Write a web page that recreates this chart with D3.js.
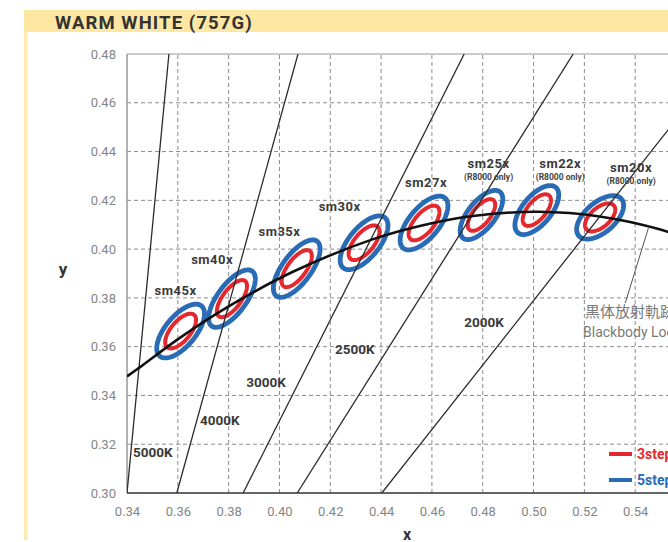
<!DOCTYPE html>
<html><head><meta charset="utf-8">
<script src="https://cdn.jsdelivr.net/npm/d3@7"></script>
<style>
html,body{margin:0;padding:0;background:#fff;overflow:hidden;}
svg{display:block;font-family:Roboto,"Noto Sans",sans-serif;}
</style></head>
<body>
<svg id="chart" width="668" height="542"></svg>
<script>
// ---------- data ----------
const xTicks = [0.34,0.36,0.38,0.40,0.42,0.44,0.46,0.48,0.50,0.52,0.54,0.56];
const yTicks = [0.30,0.32,0.34,0.36,0.38,0.40,0.42,0.44,0.46,0.48];

// blackbody (Planckian) locus
const locusX = [0.3400,0.3451,0.3608,0.3805,0.4053,0.4369,0.4599,0.4770,0.5018,0.5266,0.5496,0.5729];
const locusY = [0.3478,0.3516,0.3636,0.3768,0.3907,0.4041,0.4106,0.4137,0.4153,0.4133,0.4081,0.3991];

// isotherm lines: x at y=0.30 and x at y=0.48
const isoNames   = ["5000K","4000K","3000K","2500K","2000K"];
const isoBottomX = [0.3400,0.3596,0.3857,0.4070,0.4403];
const isoTopX    = [0.3565,0.4073,0.4727,0.5156,0.5765];
const isoLabelX  = [0.3424,0.3687,0.3869,0.4219,0.4727];
const isoLabelY  = [0.3168,0.3299,0.3455,0.3590,0.3701];

// 3-step ellipses (5-step scaled)
const ellNames = ["sm45x","sm40x","sm35x","sm30x","sm27x","sm25x","sm22x","sm20x"];
const ellCx    = [0.3611,0.3813,0.4068,0.4333,0.4569,0.4795,0.5013,0.5262];
const ellCy    = [0.3664,0.3797,0.3920,0.4026,0.4107,0.4140,0.4160,0.4130];
const ellA     = [0.0085,0.0089,0.0089,0.0085,0.0085,0.0077,0.0077,0.0073];
const ellB     = [0.0039,0.0037,0.0037,0.0039,0.0039,0.0035,0.0037,0.0039];
const ellAngle = [52,55,55,52,52,53,52,43];
const ellNote  = ["","","","","","(R8000 only)","(R8000 only)","(R8000 only)"];
const ellLabelX = [0.3591,0.3735,0.4000,0.4237,0.4577,0.4823,0.5105,0.5384];
const ellLabelY = [0.3830,0.3959,0.4071,0.4173,0.4272,0.4349,0.4349,0.4333];
const stepNames = ["3step","5step"];
const stepScale = [1,1.55];

// ---------- drawing ----------
const svg = d3.select("#chart");
const red = "#e5282e", blue = "#2a6bb5";

svg.append("rect").attr("x",24).attr("y",10).attr("width",660).attr("height",22).attr("fill","#fee7a3");
svg.append("rect").attr("x",24).attr("y",32).attr("width",3.5).attr("height",508).attr("fill","#feebb2");
svg.append("text").attr("x",55).attr("y",28.5).attr("font-size",18.5).attr("font-weight",700)
  .attr("letter-spacing",1.1).attr("fill","#333").text("WARM WHITE (757G)");

const x = d3.scaleLinear().domain([0.34,0.56]).range([127,686]);
const y = d3.scaleLinear().domain([0.30,0.48]).range([493,54]);

svg.append("defs").append("clipPath").attr("id","clip").append("rect")
  .attr("x",127).attr("y",54).attr("width",559).attr("height",439);

// grid
const grid = svg.append("g");
grid.selectAll("line.v").data(xTicks.slice(1)).join("line")
  .attr("x1",d=>x(d)).attr("x2",d=>x(d)).attr("y1",y(0.30)).attr("y2",y(0.48))
  .attr("stroke","#8c8c8c").attr("stroke-width",1).attr("stroke-dasharray","4,3");
grid.selectAll("line.h").data(yTicks.slice(1,-1)).join("line")
  .attr("y1",d=>y(d)).attr("y2",d=>y(d)).attr("x1",x(0.34)).attr("x2",x(0.56))
  .attr("stroke","#8c8c8c").attr("stroke-width",1).attr("stroke-dasharray","4,3");

// frame
svg.append("line").attr("x1",x(0.34)).attr("x2",x(0.56)).attr("y1",y(0.48)).attr("y2",y(0.48))
  .attr("stroke","#999").attr("stroke-width",1.2);
svg.append("line").attr("x1",x(0.34)).attr("x2",x(0.34)).attr("y1",y(0.48)).attr("y2",y(0.30))
  .attr("stroke","#999").attr("stroke-width",1.5);

// axes
const ax = svg.append("g").attr("transform",`translate(0,${y(0.30)})`)
  .call(d3.axisBottom(x).tickValues(xTicks.slice(0,-1)).tickFormat(d3.format(".2f")).tickSize(0).tickPadding(14));
const ay = svg.append("g").attr("transform",`translate(${x(0.34)},0)`)
  .call(d3.axisLeft(y).tickValues(yTicks).tickFormat(d3.format(".2f")).tickSize(0).tickPadding(11));
[ax,ay].forEach(g=>{
  g.select(".domain").remove();
  g.selectAll("text").attr("font-size",13).attr("fill","#858585").attr("font-family","Roboto");
});
svg.append("line").attr("x1",x(0.34)).attr("x2",x(0.56)).attr("y1",y(0.30)).attr("y2",y(0.30))
  .attr("stroke","#333").attr("stroke-width",1.6);

svg.append("text").attr("x",407).attr("y",539.5).attr("text-anchor","middle")
  .attr("font-size",16).attr("font-weight",700).attr("fill","#333").text("x");
svg.append("text").attr("x",63).attr("y",275).attr("text-anchor","middle")
  .attr("font-size",17).attr("font-weight",700).attr("fill","#333").text("y");

const plot = svg.append("g").attr("clip-path","url(#clip)");

// ellipses
function ellipsePts(i,k){
  const th = ellAngle[i]*Math.PI/180, a = ellA[i]*k, b = ellB[i]*k;
  return d3.range(0,120).map(j=>{
    const t = j/120*2*Math.PI;
    return [ellCx[i] + a*Math.cos(th)*Math.cos(t) - b*Math.sin(th)*Math.sin(t),
            ellCy[i] + a*Math.sin(th)*Math.cos(t) + b*Math.cos(th)*Math.sin(t)];
  });
}
const eline = d3.line().x(d=>x(d[0])).y(d=>y(d[1])).curve(d3.curveLinearClosed);
ellNames.forEach((n,i)=>{
  plot.append("path").attr("d",eline(ellipsePts(i,stepScale[1]))).attr("fill","none")
    .attr("stroke",blue).attr("stroke-width",4.8);
  plot.append("path").attr("d",eline(ellipsePts(i,stepScale[0]))).attr("fill","none")
    .attr("stroke",red).attr("stroke-width",4);
});

// isotherms
isoNames.forEach((n,i)=>{
  plot.append("line").attr("x1",x(isoBottomX[i])).attr("y1",y(0.30))
    .attr("x2",x(isoTopX[i])).attr("y2",y(0.48)).attr("stroke","#2b2b2b").attr("stroke-width",1.3);
});

// locus
const lline = d3.line().x(d=>x(d[0])).y(d=>y(d[1])).curve(d3.curveCatmullRom);
plot.append("path").attr("d",lline(locusX.map((v,i)=>[v,locusY[i]]))).attr("fill","none")
  .attr("stroke","#111").attr("stroke-width",2.6);

// isotherm labels
isoNames.forEach((n,i)=>{
  svg.append("text").attr("x",x(isoLabelX[i])).attr("y",y(isoLabelY[i])+4.5)
    .attr("font-size",13.5).attr("font-weight",700).attr("fill","#3a3a3a").text(n);
});

// ellipse labels
ellNames.forEach((n,i)=>{
  svg.append("text").attr("x",x(ellLabelX[i])).attr("y",y(ellLabelY[i])+4.5).attr("text-anchor","middle")
    .attr("font-size",13).attr("letter-spacing",0.5).attr("font-weight",700).attr("fill","#3a3a3a").text(n);
  if(ellNote[i]) svg.append("text").attr("x",x(ellLabelX[i])).attr("y",y(ellLabelY[i])+16.5)
    .attr("text-anchor","middle").attr("font-size",8.5).attr("font-weight",700).attr("fill","#444").text(ellNote[i]);
});

// blackbody annotation
svg.append("line").attr("x1",x(0.5361)).attr("y1",y(0.3779)).attr("x2",x(0.5452)).attr("y2",y(0.4086))
  .attr("stroke","#555").attr("stroke-width",1);
svg.append("text").attr("x",585).attr("y",317).attr("font-size",15)
  .attr("font-family","'Noto Sans CJK JP'").attr("fill","#7a7a7a").text("黒体放射軌跡");
svg.append("text").attr("x",583).attr("y",336.5).attr("font-size",14)
  .attr("fill","#7a7a7a").text("Blackbody Locus");

// legend
stepNames.forEach((n,i)=>{
  const c = i===0?red:blue, yy = 454 + i*26;
  svg.append("line").attr("x1",609).attr("x2",632).attr("y1",yy).attr("y2",yy).attr("stroke",c).attr("stroke-width",4);
  svg.append("text").attr("x",637).attr("y",yy+5).attr("font-size",14).attr("font-weight",700).attr("fill",c).text(n);
});
</script>
</body></html>
